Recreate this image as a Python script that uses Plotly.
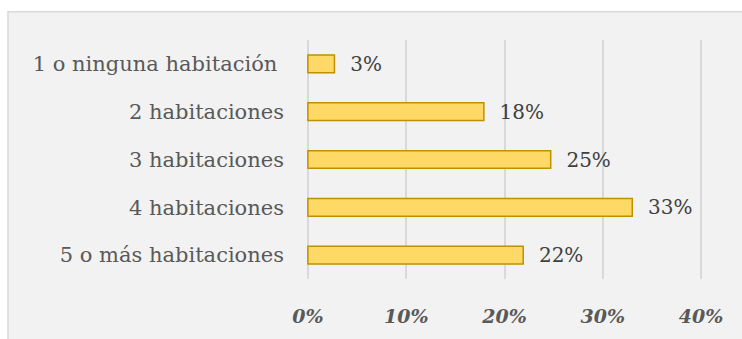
import plotly.graph_objects as go

categories = ["1 o ninguna habitación\u00a0", "2 habitaciones", "3 habitaciones", "4 habitaciones", "5 o más habitaciones"]
values = [0.027, 0.179, 0.247, 0.33, 0.219]
x_ticks = [0, 0.1, 0.2, 0.3, 0.4]
x_tick_labels = ["0%", "10%", "20%", "30%", "40%"]

W, H = 742, 339
L, R, T, B = 303, 36, 40, 54
pw, ph = W - L - R, H - T - B

def px_x(p):
    return (p - L) / pw

def px_y(p):
    return (H - B - p) / ph

fig = go.Figure()
fig.add_trace(go.Bar(
    y=categories, x=values, orientation="h",
    marker=dict(color="#FFD966", line=dict(color="#BF9000", width=1.5)),
    width=0.37,
    text=values, texttemplate="\u00a0\u00a0%{x:.0%}", textposition="outside",
    constraintext="none",
    textfont=dict(family="DejaVu Serif", size=20, color="#404040"),
    cliponaxis=False,
))

fig.add_shape(type="rect", xref="paper", yref="paper",
              x0=px_x(8), x1=px_x(760), y0=px_y(360), y1=px_y(11),
              fillcolor="#F2F2F2", line=dict(color="#D9D9D9", width=1.5), layer="below")

fig.update_layout(
    width=W, height=H,
    margin=dict(l=L, r=R, t=T, b=B),
    paper_bgcolor="white", plot_bgcolor="rgba(0,0,0,0)",
    showlegend=False,
    xaxis=dict(range=[-0.005, 0.405], tickvals=x_ticks, ticktext=x_tick_labels,
               showgrid=True, gridcolor="#D9D9D9", gridwidth=1.5,
               zeroline=False, showline=False,
               ticks="outside", ticklen=0,
               tickfont=dict(family="DejaVu Serif", size=19, color="#595959", style="italic", weight="bold"),
               ticklabelstandoff=20),
    yaxis=dict(categoryorder="array", categoryarray=categories[::-1],
               showgrid=False, zeroline=False, showline=False,
               tickfont=dict(family="DejaVu Serif", size=21, color="#595959"),
               ticklabelstandoff=18),
)

fig.write_html("out.html")
